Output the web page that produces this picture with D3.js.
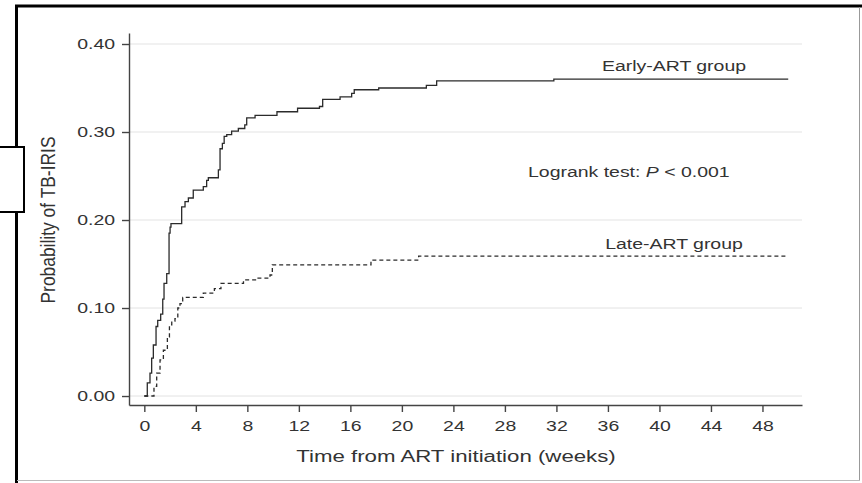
<!DOCTYPE html>
<html lang="en">

<head>
    <meta charset="UTF-8">
    <title>TB-IRIS</title>
    <style>
        body { margin: 0; background: #fff; }
        svg { display: block; }
        text { font-family: "Liberation Sans", Arial, sans-serif; fill: #333; }
    </style>
</head>

<body>
    <svg id="chart"></svg>

    <script src="https://cdn.jsdelivr.net/npm/d3@7"></script>
    <script>
        // cumulative incidence (weeks, probability)
        const earlyTimes = [0, 0.23, 0.44, 0.57, 0.70, 0.91, 1.04, 1.27, 1.43, 1.53, 1.74, 1.92, 2.0, 2.07, 2.9, 3.16, 3.42, 3.8, 4.58, 4.84, 4.97, 5.75, 5.88, 6.06, 6.2, 6.4, 6.78, 7.3, 7.8, 7.95, 8.6, 10.3, 11.9, 13.6, 13.85, 15.2, 16.1, 16.3, 18.2, 21.9, 22.7, 31.8, 50];
        const earlyValues = [0, 0.015, 0.026, 0.043, 0.058, 0.079, 0.086, 0.093, 0.110, 0.128, 0.139, 0.185, 0.192, 0.196, 0.215, 0.221, 0.225, 0.234, 0.238, 0.245, 0.248, 0.257, 0.281, 0.287, 0.295, 0.297, 0.301, 0.304, 0.308, 0.316, 0.319, 0.323, 0.327, 0.329, 0.337, 0.340, 0.344, 0.348, 0.350, 0.353, 0.358, 0.360, 0.360];

        const lateTimes = [0, 0.75, 0.96, 1.22, 1.48, 1.79, 1.95, 2.13, 2.38, 2.6, 2.77, 2.98, 4.58, 5.44, 5.95, 7.7, 8.7, 9.76, 9.94, 17.6, 21.3, 50];
        const lateValues = [0, 0.011, 0.026, 0.041, 0.052, 0.067, 0.081, 0.085, 0.088, 0.100, 0.105, 0.112, 0.117, 0.122, 0.128, 0.132, 0.134, 0.1375, 0.149, 0.1545, 0.159, 0.159];

        const xTicks = [0, 4, 8, 12, 16, 20, 24, 28, 32, 36, 40, 44, 48];
        const yTicks = [0, 0.1, 0.2, 0.3, 0.4];

        const W = 862, H = 483;
        const sx = 1.39; // text in the source is stretched sideways

        const svg = d3.select('#chart').attr('width', W).attr('height', H);

        const x = d3.scaleLinear().domain([-1.19, 51.07]).range([129, 802]);
        const y = d3.scaleLinear().domain([-0.0102, 0.4125]).range([405, 33]);

        // gridlines
        svg.append('g')
            .selectAll('line')
            .data(yTicks)
            .enter()
            .append('line')
            .attr('x1', 129).attr('x2', 802)
            .attr('y1', d => y(d)).attr('y2', d => y(d))
            .attr('stroke', '#e3e3e3')
            .attr('stroke-width', 1);

        // axes
        const yAxis = svg.append('g')
            .attr('transform', 'translate(129,0)')
            .call(d3.axisLeft(y).tickValues(yTicks).tickFormat(d3.format('.2f')).tickSize(7).tickSizeOuter(0));

        const xAxis = svg.append('g')
            .attr('transform', 'translate(0,405)')
            .call(d3.axisBottom(x).tickValues(xTicks).tickSize(7).tickSizeOuter(0));

        [yAxis, xAxis].forEach(a => {
            a.select('.domain').attr('stroke', '#444').attr('stroke-width', 1.4);
            a.selectAll('.tick line').attr('stroke', '#444').attr('stroke-width', 1.4);
            a.selectAll('.tick text')
                .attr('font-size', 14)
                .attr('font-family', '"Liberation Sans", Arial, sans-serif')
                .attr('fill', '#333');
        });
        yAxis.selectAll('.tick text').attr('x', -14 / sx).attr('transform', `scale(${sx},1)`);
        xAxis.selectAll('.tick text').attr('y', 16).attr('transform', `scale(${sx},1)`);

        // curves
        const line = d3.line()
            .x(d => x(d[0]))
            .y(d => y(d[1]))
            .curve(d3.curveStepAfter);

        svg.append('path')
            .datum(earlyTimes.map((t, i) => [t, earlyValues[i]]))
            .attr('d', line)
            .attr('fill', 'none')
            .attr('stroke', '#2b2b2b')
            .attr('stroke-width', 1.3);

        svg.append('path')
            .datum(lateTimes.map((t, i) => [t, lateValues[i]]))
            .attr('d', line)
            .attr('fill', 'none')
            .attr('stroke', '#2b2b2b')
            .attr('stroke-width', 1.3)
            .attr('stroke-dasharray', '4,3');

        // labels
        function label(px, py, size, anchor) {
            return svg.append('g')
                .attr('transform', `translate(${px},${py}) scale(${sx},1)`)
                .append('text')
                .attr('font-size', size)
                .attr('text-anchor', anchor);
        }

        label(674, 71, 14, 'middle').text('Early-ART group');
        label(674, 249, 14, 'middle').text('Late-ART group');

        const lr = label(528, 177, 14, 'start');
        lr.append('tspan').text('Logrank test: ');
        lr.append('tspan').attr('font-style', 'italic').text('P');
        lr.append('tspan').text(' < 0.001');

        label(456, 462, 16, 'middle').text('Time from ART initiation (weeks)');

        svg.append('g')
            .attr('transform', `translate(54.5,220) scale(${sx},1) rotate(-90)`)
            .append('text')
            .attr('font-size', 15)
            .attr('text-anchor', 'middle')
            .attr('textLength', 167)
            .attr('lengthAdjust', 'spacingAndGlyphs')
            .text('Probability of TB-IRIS');

        // frame around the figure
        svg.append('line').attr('x1', 15).attr('x2', W).attr('y1', 6).attr('y2', 6)
            .attr('stroke', '#000').attr('stroke-width', 3);
        svg.append('line').attr('x1', 16.5).attr('x2', 16.5).attr('y1', 5).attr('y2', H)
            .attr('stroke', '#000').attr('stroke-width', 3);
        svg.append('line').attr('x1', 859.5).attr('x2', 859.5).attr('y1', 7).attr('y2', 481)
            .attr('stroke', '#999').attr('stroke-width', 1);
        svg.append('line').attr('x1', 17).attr('x2', 860).attr('y1', 480.5).attr('y2', 480.5)
            .attr('stroke', '#bbb').attr('stroke-width', 1);
        svg.append('rect').attr('x', -2).attr('y', 147).attr('width', 26).attr('height', 65)
            .attr('fill', '#fff').attr('stroke', '#000').attr('stroke-width', 2);
    </script>
</body>

</html>
